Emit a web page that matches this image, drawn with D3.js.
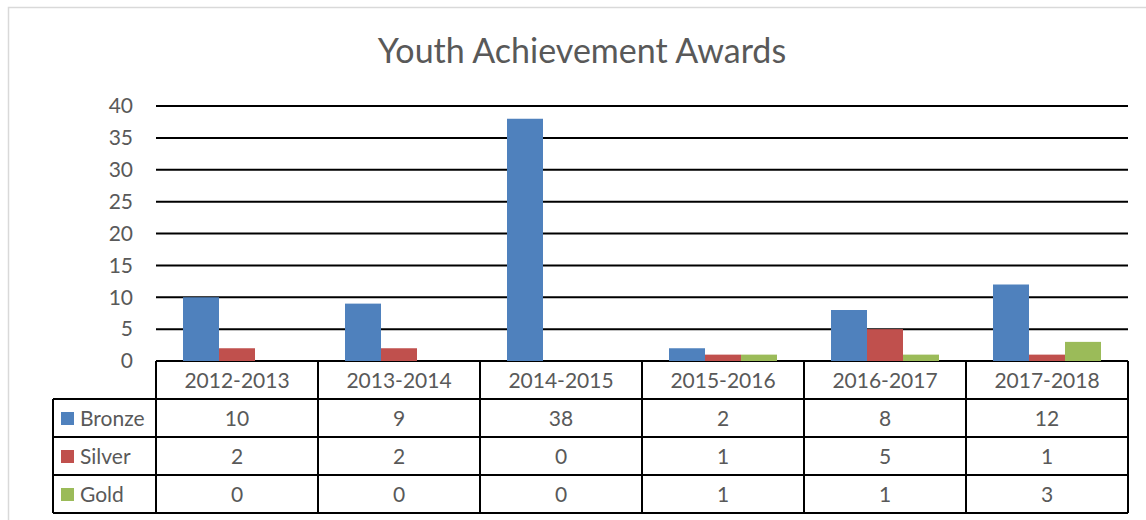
<!DOCTYPE html>
<html>
<head>
<meta charset="utf-8">
<script src="https://cdn.jsdelivr.net/npm/d3@7"></script>
<style>
  body { margin: 0; background: #fff; }
  svg text { font-family: Lato, "Open Sans", sans-serif; fill: #595959; }
</style>
</head>
<body>
<div id="chart"></div>
<script>
var seasons = ["2012-2013", "2013-2014", "2014-2015", "2015-2016", "2016-2017", "2017-2018"];
var seriesNames = ["Bronze", "Silver", "Gold"];
var bronze = [10, 9, 38, 2, 8, 12];
var silver = [2, 2, 0, 1, 5, 1];
var gold = [0, 0, 0, 1, 1, 3];
var yTicks = [0, 5, 10, 15, 20, 25, 30, 35, 40];
var colors = ["#4f81bd", "#c0504d", "#9bbb59"];

var width = 1146, height = 520;
var plot = {left: 156, right: 1128, top: 106, bottom: 361};
var rowH = 38, legendLeft = 53;
var fontSize = "21px";

var series = [bronze, silver, gold];

var svg = d3.select("#chart").append("svg")
    .attr("width", width)
    .attr("height", height);

// chart area frame
svg.append("rect")
    .attr("x", 8.5).attr("y", 7.5)
    .attr("width", width).attr("height", height)
    .attr("fill", "none")
    .attr("stroke", "#d9d9d9")
    .attr("stroke-width", 1.5);

svg.append("text")
    .attr("x", 582).attr("y", 63)
    .attr("text-anchor", "middle")
    .style("font-size", "34px")
    .text("Youth Achievement Awards");

var x0 = d3.scaleBand().domain(seasons).range([plot.left, plot.right]);
var x1 = d3.scaleBand().domain(seriesNames)
    .range([0, x0.bandwidth()]).paddingOuter(0.75);
var y = d3.scaleLinear().domain([0, 40]).range([plot.bottom, plot.top]);

// gridlines
svg.append("g")
    .selectAll("line")
    .data(yTicks)
    .enter().append("line")
    .attr("x1", plot.left).attr("x2", plot.right)
    .attr("y1", d => y(d)).attr("y2", d => y(d))
    .attr("stroke", "#000")
    .attr("stroke-width", 2);

svg.append("g")
    .selectAll("text")
    .data(yTicks)
    .enter().append("text")
    .attr("x", 133)
    .attr("y", d => y(d))
    .attr("dy", "0.35em")
    .attr("text-anchor", "end")
    .style("font-size", fontSize)
    .text(d => d);

// bars
seriesNames.forEach(function (name, i) {
    svg.append("g")
        .selectAll("rect")
        .data(series[i])
        .enter().append("rect")
        .attr("x", (d, j) => x0(seasons[j]) + x1(name))
        .attr("y", d => y(d))
        .attr("width", x1.bandwidth())
        .attr("height", d => y(0) - y(d))
        .attr("fill", colors[i]);
});

// data table
var table = svg.append("g");
var tableBottom = plot.bottom + rowH * 4;

table.selectAll(".head")
    .data(seasons)
    .enter().append("text")
    .attr("x", d => x0(d) + x0.bandwidth() / 2)
    .attr("y", plot.bottom + rowH / 2)
    .attr("dy", "0.36em")
    .attr("text-anchor", "middle")
    .style("font-size", fontSize)
    .text(d => d);

seriesNames.forEach(function (name, i) {
    var rowY = plot.bottom + rowH * (i + 1);
    table.append("rect")
        .attr("x", legendLeft + 8).attr("y", rowY + rowH / 2 - 6)
        .attr("width", 13).attr("height", 13)
        .attr("fill", colors[i]);
    table.append("text")
        .attr("x", legendLeft + 27).attr("y", rowY + rowH / 2)
        .attr("dy", "0.36em")
        .style("font-size", fontSize)
        .text(name);
    table.append("g")
        .selectAll("text")
        .data(series[i])
        .enter().append("text")
        .attr("x", (d, j) => x0(seasons[j]) + x0.bandwidth() / 2)
        .attr("y", rowY + rowH / 2)
        .attr("dy", "0.36em")
        .attr("text-anchor", "middle")
        .style("font-size", fontSize)
        .text(d => d);
});

// table borders
var hLines = [1, 2, 3, 4].map(k => plot.bottom + rowH * k);
table.selectAll(".hl")
    .data(hLines)
    .enter().append("line")
    .attr("x1", legendLeft).attr("x2", plot.right)
    .attr("y1", d => d).attr("y2", d => d)
    .attr("stroke", "#000").attr("stroke-width", 2);

table.append("line")
    .attr("x1", legendLeft).attr("x2", legendLeft)
    .attr("y1", plot.bottom + rowH).attr("y2", tableBottom)
    .attr("stroke", "#000").attr("stroke-width", 2);

var vLines = seasons.map(d => x0(d)).concat([plot.right]);
table.selectAll(".vl")
    .data(vLines)
    .enter().append("line")
    .attr("x1", d => d).attr("x2", d => d)
    .attr("y1", plot.bottom).attr("y2", tableBottom)
    .attr("stroke", "#000").attr("stroke-width", 2);
</script>
</body>
</html>
